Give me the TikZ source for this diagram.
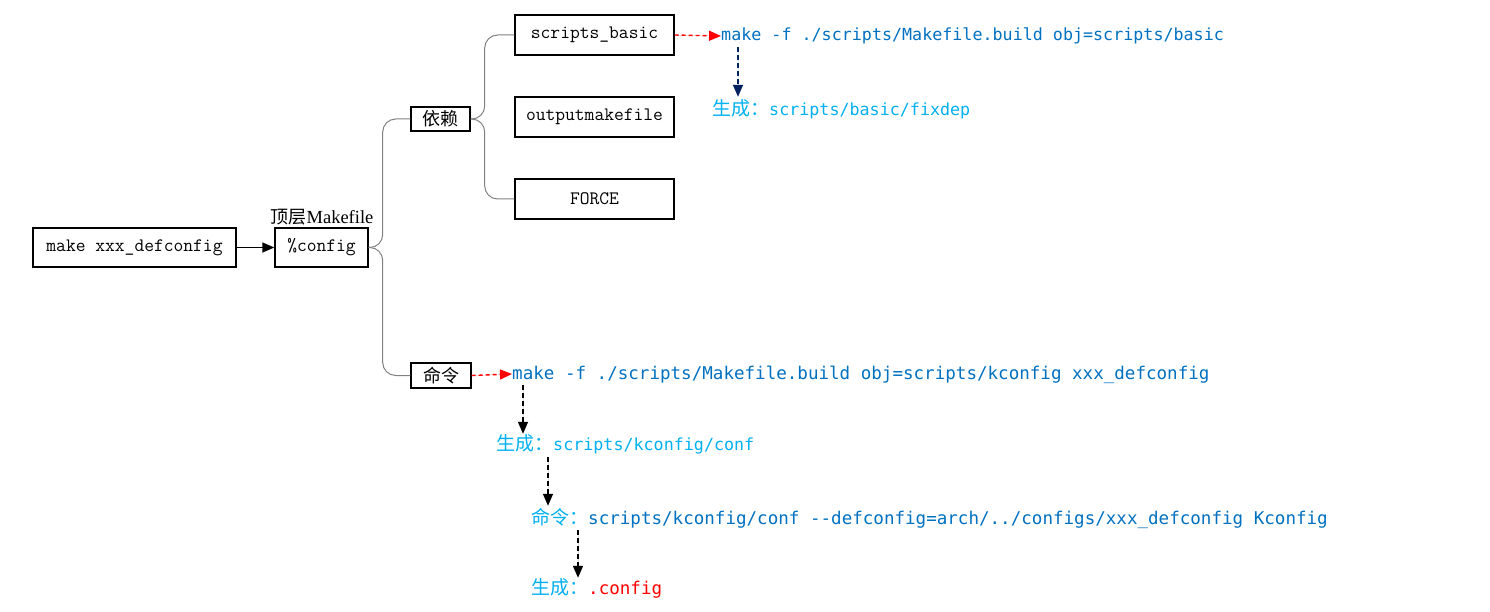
\documentclass[tikz,border=0pt]{standalone}
\usepackage{fontspec}
\newfontfamily\cjk{Noto Sans CJK SC}
\newfontfamily\cmdfont{DejaVu Sans Mono}
\newfontfamily\serifl{Liberation Serif}
\usetikzlibrary{arrows.meta}
\definecolor{cmdblue}{RGB}{0,112,192}
\definecolor{genblue}{RGB}{0,176,240}
\definecolor{navy}{RGB}{0,32,96}
\definecolor{conngray}{RGB}{128,128,128}
\tikzset{
  box/.style={draw=black, line width=1.4pt, inner sep=0pt, font=\ttfamily\fontsize{19}{19}\selectfont},
  cbox/.style={draw=black, line width=1.4pt, inner sep=0pt, font=\cjk\fontsize{18}{18}\selectfont},
  conn/.style={draw=conngray, line width=1pt, rounded corners=13pt},
  txt/.style={inner sep=0pt, anchor=base west, text height=14pt, text depth=4pt},
  fsmall/.style={font=\cmdfont\fontsize{16.7}{17}\selectfont},
  flarge/.style={font=\cmdfont\fontsize{17.55}{17.55}\selectfont},
  tip/.style={-{Triangle[length=12pt,width=10pt]}},
  reddash/.style={tip, draw=red, fill=red, line width=1.4pt, dash pattern=on 4pt off 3pt},
  blkdash/.style={tip, draw=black, fill=black, line width=1.4pt, dash pattern=on 5pt off 3pt},
  navydash/.style={tip, draw=navy, fill=navy, line width=1.4pt, dash pattern=on 5pt off 3pt},
}
\newcommand{\cj}[1]{{\cjk\fontsize{19}{19}\selectfont #1}}
\begin{document}
\begin{tikzpicture}[x=1pt,y=-1pt]
\useasboundingbox (0,0) rectangle (1490,612);
% boxes
\node[box, minimum width=203pt, minimum height=39pt] (mk) at (134.5,247.5) {make xxx\_defconfig};
\node[box, minimum width=93pt, minimum height=39pt] (pc) at (321.5,247.5) {\%config};
\node[inner sep=0pt, anchor=base] (lbl) at (322,224) {{\cjk\fontsize{18}{18}\selectfont 顶层}{\serifl\fontsize{18.5}{18.5}\selectfont Makefile}};
\node[cbox, minimum width=59pt, minimum height=24pt] (yl) at (440.5,119) {依赖};
\node[cbox, minimum width=60pt, minimum height=25pt] (ml) at (441,375.5) {命令};
\node[box, minimum width=159pt, minimum height=40pt] (sb) at (594.5,35) {scripts\_basic};
\node[box, minimum width=159pt, minimum height=40pt] (om) at (594.5,117) {outputmakefile};
\node[box, minimum width=159pt, minimum height=40pt] (fo) at (594.5,199) {FORCE};
% connectors
\draw[conn] (pc.east) -- ++(14,0) |- (yl.west);
\draw[conn] (pc.east) -- ++(14,0) |- (ml.west);
\draw[conn] (yl.east) -- ++(14,0) |- (sb.west);
\draw[conn] (yl.east) -- ++(14,0) |- (fo.west);
\draw[tip, line width=1.4pt] (mk.east) -- (pc.west);
% command texts
\node[txt, fsmall, text=cmdblue] (c1) at (721,41) {make -f ./scripts/Makefile.build obj=scripts/basic};
\node[txt, fsmall, text=genblue] (g1) at (712,116) {\cj{生成：}scripts/basic/fixdep};
\node[txt, flarge, text=cmdblue] (c2) at (512,379) {make -f ./scripts/Makefile.build obj=scripts/kconfig xxx\_defconfig};
\node[txt, fsmall, text=genblue] (g2) at (496,450) {\cj{生成：}scripts/kconfig/conf};
\node[txt, flarge, text=cmdblue] (c3) at (531,524) {{\color{genblue}\cj{命令：}}scripts/kconfig/conf --defconfig=arch/../configs/xxx\_defconfig Kconfig};
\node[txt, flarge, text=red] (g3) at (531,594) {{\color{genblue}\cj{生成：}}.config};
% arrows
\draw[reddash] (sb.east) -- (c1.west);
\draw[reddash] (ml.east) -- (c2.west);
\draw[navydash, shorten <=2pt, shorten >=5pt] ([xshift=17pt]c1.south west) -- ([xshift=17pt]c1.south west |- g1.north);
\draw[blkdash, shorten <=2pt, shorten >=2pt] ([xshift=11pt]c2.south west) -- ([xshift=11pt]c2.south west |- g2.north);
\draw[blkdash, shorten <=3pt, shorten >=4pt] ([xshift=52pt]g2.south west) -- ([xshift=52pt]g2.south west |- c3.north);
\draw[blkdash, shorten <=2pt, shorten >=2pt] ([xshift=47pt]c3.south west) -- ([xshift=47pt]c3.south west |- g3.north);
\end{tikzpicture}
\end{document}
